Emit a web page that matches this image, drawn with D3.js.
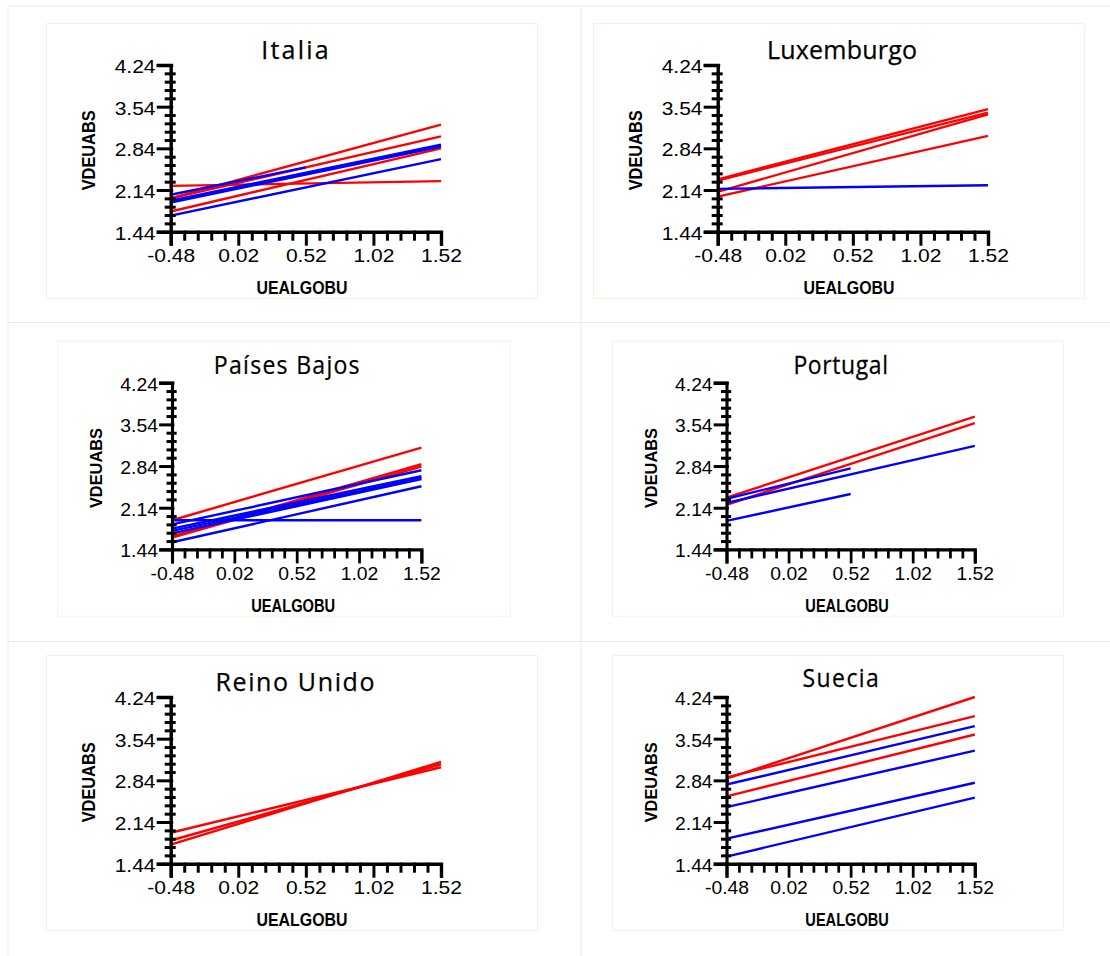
<!DOCTYPE html>
<html>
<head>
<meta charset="utf-8">
<script src="https://cdn.jsdelivr.net/npm/d3@7"></script>
<style>
  body { margin: 0; background: #ffffff; }
  svg { display: block; }
</style>
</head>
<body>
<svg id="chart" width="1110" height="956"></svg>
<script>
// ---------------- DATA ----------------
const xTicks = [-0.48, 0.02, 0.52, 1.02, 1.52];
const yTicks = [1.44, 2.14, 2.84, 3.54, 4.24];
const xTitle = "UEALGOBU";
const yTitle = "VDEUABS";
const countries = ["Italia", "Luxemburgo", "Países Bajos", "Portugal", "Reino Unido", "Suecia"];

// each segment: [xStart, yStart, xEnd, yEnd]
const italiaRed = [
  [-0.48, 2.00, 1.52, 3.24],
  [-0.48, 2.00, 1.52, 3.04],
  [-0.48, 1.78, 1.52, 2.84],
  [-0.48, 2.21, 1.52, 2.29]
];
const italiaBlue = [
  [-0.48, 2.06, 0.52, 2.52],
  [-0.48, 1.93, 1.52, 2.87],
  [-0.48, 1.96, 1.52, 2.90],
  [-0.48, 1.71, 1.52, 2.66]
];
const luxemburgoRed = [
  [-0.48, 2.32, 1.52, 3.50],
  [-0.48, 2.30, 1.52, 3.44],
  [-0.48, 2.11, 1.52, 3.41],
  [-0.48, 2.03, 1.52, 3.05]
];
const luxemburgoBlue = [
  [-0.48, 2.16, 1.52, 2.22]
];
const paisesBajosRed = [
  [-0.48, 1.93, 1.52, 3.15],
  [-0.48, 1.66, 1.52, 2.87],
  [-0.48, 1.64, 1.52, 2.83]
];
const paisesBajosBlue = [
  [-0.48, 1.93, 1.52, 1.93],
  [-0.48, 1.86, 1.52, 2.77],
  [-0.48, 1.79, 1.52, 2.67],
  [-0.48, 1.75, 1.52, 2.64],
  [-0.48, 1.71, 1.52, 2.62],
  [-0.48, 1.56, 1.52, 2.50]
];
const portugalRed = [
  [-0.48, 2.31, 1.52, 3.67],
  [-0.48, 2.19, 1.52, 3.56]
];
const portugalBlue = [
  [-0.48, 2.29, 0.52, 2.80],
  [-0.48, 2.22, 1.52, 3.18],
  [-0.48, 1.92, 0.52, 2.37]
];
const reinoUnidoRed = [
  [-0.48, 1.96, 1.52, 3.06],
  [-0.48, 1.83, 1.52, 3.11],
  [-0.48, 1.76, 1.52, 3.15]
];
const reinoUnidoBlue = [];
const sueciaRed = [
  [-0.48, 2.87, 1.52, 4.24],
  [-0.48, 2.89, 1.52, 3.92],
  [-0.48, 2.57, 1.52, 3.61]
];
const sueciaBlue = [
  [-0.48, 2.77, 1.52, 3.75],
  [-0.48, 2.39, 1.52, 3.34],
  [-0.48, 1.86, 1.52, 2.80],
  [-0.48, 1.56, 1.52, 2.55]
];

const redSeries  = [italiaRed, luxemburgoRed, paisesBajosRed, portugalRed, reinoUnidoRed, sueciaRed];
const blueSeries = [italiaBlue, luxemburgoBlue, paisesBajosBlue, portugalBlue, reinoUnidoBlue, sueciaBlue];

// ---------------- LAYOUT ----------------
const panelX  = [46, 593, 57, 612, 46, 612];
const panelY  = [23, 23, 340.7, 340.7, 655, 655];
const panelSX = [1, 1, 0.9226, 0.9185, 1, 0.9185];
const titleW  = [67.5, 150, 158, 103, 159, 83];
const titleBase = [35.5, 35.5, 33, 33, 35.5, 32.5];

const BOX_W = 491, BOX_H = 275;
const PLOT = { left: 124.7, right: 395, top: 42, bottom: 208.7 };
const RED = "#ff0000", BLUE = "#0000ff";
const TICK_FONT = "'Liberation Sans', Arial, sans-serif";
const LABEL_STRETCH = 1.2;
const LABEL_SIZE = 17.5;

const svg = d3.select("#chart");

// outer table-like grid
const gridColor = "#e9e9e1";
[8, 581].forEach(v => svg.append("line").attr("x1", v).attr("x2", v).attr("y1", 6).attr("y2", 956)
  .attr("stroke", gridColor).attr("stroke-width", 1));
[6, 322.5, 641.5].forEach(h => svg.append("line").attr("x1", 8).attr("x2", 1110).attr("y1", h).attr("y2", h)
  .attr("stroke", gridColor).attr("stroke-width", 1));

const xMinor = d3.range(0, 21).filter(i => i % 5 !== 0).map(i => -0.48 + i * 0.1);
const yMinor = d3.range(0, 21).filter(i => i % 5 !== 0).map(i => 1.44 + i * 0.14);

countries.forEach((name, idx) => {
  const g = svg.append("g")
    .attr("transform", `translate(${panelX[idx]},${panelY[idx]}) scale(${panelSX[idx]},1)`);

  g.append("rect").attr("x", 0.5).attr("y", 0.5).attr("width", BOX_W).attr("height", BOX_H)
    .attr("fill", "#ffffff").attr("stroke", "#f7f1df").attr("stroke-width", 1);

  const x = d3.scaleLinear().domain([xTicks[0], xTicks[xTicks.length - 1]]).range([PLOT.left, PLOT.right]);
  const y = d3.scaleLinear().domain([yTicks[0], yTicks[yTicks.length - 1]]).range([PLOT.bottom, PLOT.top]);

  // title
  g.append("text")
    .attr("x", 249).attr("y", titleBase[idx])
    .attr("text-anchor", "middle")
    .attr("font-family", "'Open Sans', sans-serif")
    .attr("font-size", 25)
    .attr("fill", "#000")
    .attr("stroke", "#000").attr("stroke-width", 0.25)
    .attr("textLength", titleW[idx])
    .attr("lengthAdjust", "spacing")
    .text(name);

  // data lines
  const drawSegs = (segs, color) => {
    g.append("g").selectAll("line").data(segs).join("line")
      .attr("x1", d => x(d[0])).attr("y1", d => y(d[1]))
      .attr("x2", d => x(d[2])).attr("y2", d => y(d[3]))
      .attr("stroke", color).attr("stroke-width", 2.4);
  };
  drawSegs(redSeries[idx], RED);
  drawSegs(blueSeries[idx], BLUE);

  // y axis minor ticks
  const yMin = g.append("g").attr("transform", `translate(${PLOT.left},0)`)
    .call(d3.axisLeft(y).tickValues(yMinor).tickSize(0).tickFormat(""));
  yMin.select(".domain").remove();
  yMin.selectAll(".tick line").attr("x1", -6).attr("x2", 5)
    .attr("stroke", "#000").attr("stroke-width", 3);

  // y axis major
  const yAx = g.append("g").attr("transform", `translate(${PLOT.left},0)`)
    .call(d3.axisLeft(y).tickValues(yTicks).tickSizeOuter(0).tickSize(14).tickFormat(d => d.toFixed(2)));
  yAx.select(".domain").attr("stroke", "#000").attr("stroke-width", 3.4);
  yAx.selectAll(".tick line").attr("x1", 2.5).attr("stroke", "#000").attr("stroke-width", 3);
  yAx.selectAll(".tick text")
    .attr("font-family", TICK_FONT).attr("font-size", LABEL_SIZE).attr("fill", "#000")
    .attr("text-anchor", "end")
    .attr("x", -15.2 / LABEL_STRETCH).attr("dy", "0.42em")
    .attr("transform", `scale(${LABEL_STRETCH},1)`);

  // x axis minor ticks
  const xMin = g.append("g").attr("transform", `translate(0,${PLOT.bottom})`)
    .call(d3.axisBottom(x).tickValues(xMinor).tickSize(0).tickFormat(""));
  xMin.select(".domain").remove();
  xMin.selectAll(".tick line").attr("y1", -1).attr("y2", 9)
    .attr("stroke", "#000").attr("stroke-width", 3);

  // x axis major
  const xAx = g.append("g").attr("transform", `translate(0,${PLOT.bottom})`)
    .call(d3.axisBottom(x).tickValues(xTicks).tickSizeOuter(0).tickSize(14).tickFormat(d => d.toFixed(2)));
  xAx.select(".domain").attr("stroke", "#000").attr("stroke-width", 3.4);
  xAx.selectAll(".tick line").attr("stroke", "#000").attr("stroke-width", 3);
  xAx.selectAll(".tick text")
    .attr("font-family", TICK_FONT).attr("font-size", LABEL_SIZE).attr("fill", "#000")
    .attr("text-anchor", "middle")
    .attr("y", 30.2).attr("dy", 0)
    .attr("transform", `scale(${LABEL_STRETCH},1)`)
    .attr("x", 0);

  // axis titles
  g.append("text")
    .attr("transform", `translate(48.5,${(PLOT.top + PLOT.bottom) / 2 + 2}) rotate(-90)`)
    .attr("text-anchor", "middle")
    .attr("font-family", TICK_FONT).attr("font-weight", "bold").attr("font-size", 18.5)
    .attr("fill", "#000")
    .attr("textLength", 80).attr("lengthAdjust", "spacingAndGlyphs")
    .text(yTitle);

  g.append("text")
    .attr("x", 256).attr("y", 271)
    .attr("text-anchor", "middle")
    .attr("font-family", TICK_FONT).attr("font-weight", "bold").attr("font-size", 17.5)
    .attr("fill", "#000")
    .attr("textLength", 91).attr("lengthAdjust", "spacingAndGlyphs")
    .text(xTitle);
});
</script>
</body>
</html>
